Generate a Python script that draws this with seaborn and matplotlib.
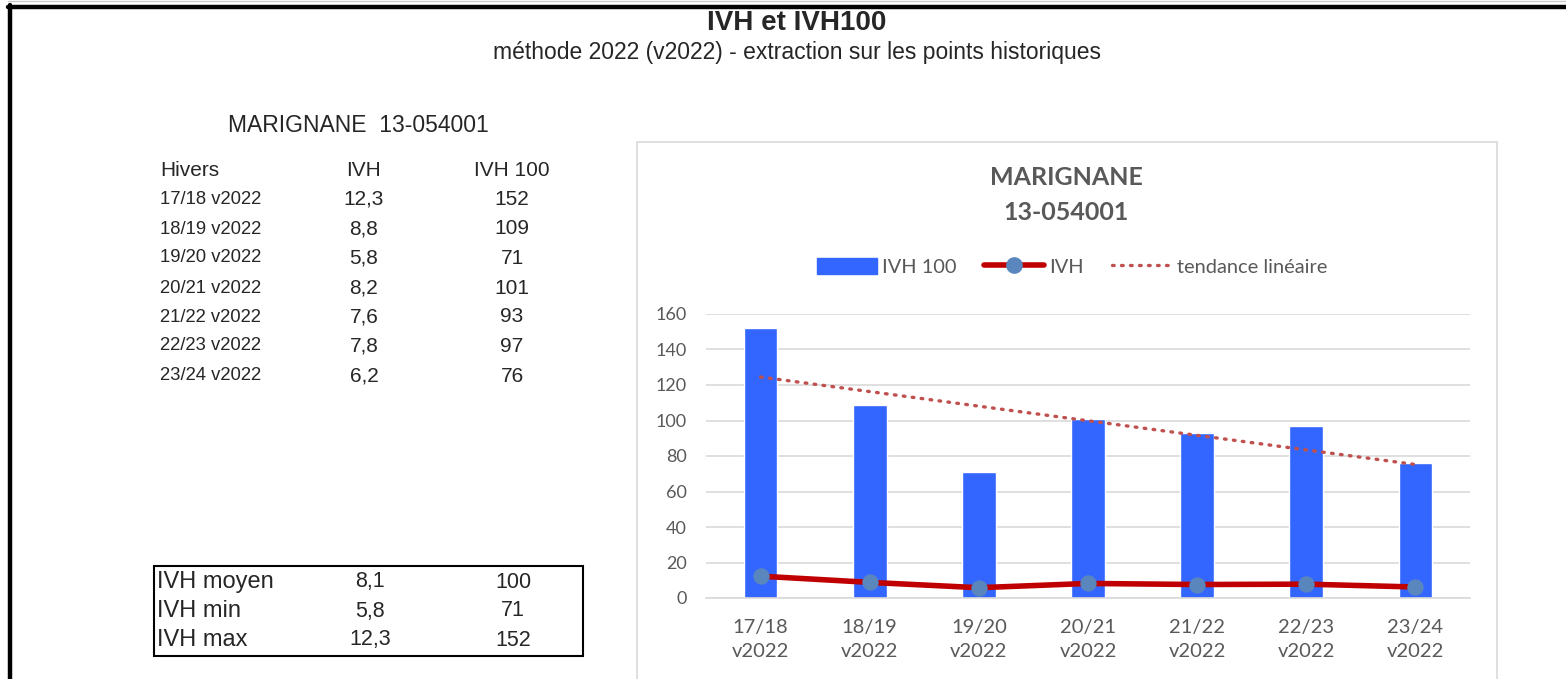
import numpy as np
import seaborn as sns
import matplotlib.pyplot as plt
from matplotlib.patches import Rectangle, Patch
from matplotlib.lines import Line2D

# données
hivers = ["17/18 v2022", "18/19 v2022", "19/20 v2022", "20/21 v2022",
          "21/22 v2022", "22/23 v2022", "23/24 v2022"]
ivh = [12.3, 8.8, 5.8, 8.2, 7.6, 7.8, 6.2]
ivh100 = [152, 109, 71, 101, 93, 97, 76]
stat_noms = ["IVH moyen", "IVH min", "IVH max"]
stat_ivh = [8.1, 5.8, 12.3]
stat_ivh100 = [100, 71, 152]
y_ticks = [0, 20, 40, 60, 80, 100, 120, 140, 160]

W, H = 1566, 679
bleu = "#3366FF"
rouge = "#C00000"
gris = "#595959"


def fx(px):
    return px / W


def fy(py):
    return 1 - py / H


def fr(v):
    return f"{v:.1f}".replace(".", ",")


sns.set_style("white")
plt.rcParams['font.family'] = ['Liberation Sans', 'DejaVu Sans']

fig = plt.figure(figsize=(15.66, 6.79), dpi=100)

# cadre noir
fig.add_artist(Line2D([fx(8), 1], [fy(7), fy(7)], color="black", lw=3.2))
fig.add_artist(Line2D([fx(10), fx(10)], [fy(5), 0], color="black", lw=3.2))
fig.add_artist(Line2D([fx(8), 1], [fy(1), fy(1)], color="#C8C8C8", lw=1))

# titres
fig.text(fx(797), fy(30), "IVH et IVH100", ha="center", va="baseline",
         fontsize=20, fontweight="bold")
fig.text(fx(797), fy(53), "méthode 2022 (v2022) - extraction sur les points historiques",
         ha="center", va="center", fontsize=16.5)
fig.text(fx(228), fy(125), "MARIGNANE  13-054001", ha="left", va="center", fontsize=16.5)

# tableau
rows_y = [199, 229, 258, 288, 317, 346, 376]
fig.text(fx(160), fy(171), "Hivers", ha="left", va="center", fontsize=15)
fig.text(fx(364), fy(171), "IVH", ha="center", va="center", fontsize=15)
fig.text(fx(512), fy(171), "IVH 100", ha="center", va="center", fontsize=15)
for yy, h, a, b in zip(rows_y, hivers, ivh, ivh100):
    fig.text(fx(160), fy(yy), h, ha="left", va="center", fontsize=13.3)
    fig.text(fx(364), fy(yy), fr(a), ha="center", va="center", fontsize=15)
    fig.text(fx(512), fy(yy), str(b), ha="center", va="center", fontsize=15)

# encadré stats
fig.add_artist(Rectangle((fx(154), fy(656)), fx(583 - 154), (656 - 566) / H,
                         fill=False, ec="black", lw=1.5))
for yy, n, a, b in zip([582, 611, 640], stat_noms, stat_ivh, stat_ivh100):
    fig.text(fx(157), fy(yy), n, ha="left", va="center", fontsize=17)
    fig.text(fx(370), fy(yy), fr(a), ha="center", va="center", fontsize=15.5)
    fig.text(fx(513), fy(yy), str(b), ha="center", va="center", fontsize=15.5)

# cadre du graphique
fig.add_artist(Rectangle((fx(637), -0.01), fx(1497 - 637), fy(142) + 0.01,
                         fill=False, ec="#D9D9D9", lw=1.2))

ax = fig.add_axes([fx(706), fy(598), fx(1470 - 706), (598 - 314) / H])
x = np.arange(len(hivers))
labels = [h.replace(" ", "\n") for h in hivers]

sns.barplot(x=x, y=ivh100, color=bleu, saturation=1, width=0.31, ax=ax,
            zorder=2, native_scale=True)
sns.regplot(x=x, y=ivh100, scatter=False, ci=None, ax=ax, truncate=True,
            line_kws=dict(color="#C0504D", lw=2.4, ls=(0, (0.5, 2.2)),
                          dash_capstyle="round", zorder=4))
sns.lineplot(x=x, y=ivh, color=rouge, lw=4, marker="o", markersize=11,
             markerfacecolor="#5A86BE", markeredgecolor="#5A86BE", ax=ax, zorder=5)

ax.set_xlim(-0.5, len(hivers) - 0.5)
ax.set_ylim(0, 160)
ax.set_yticks(y_ticks)
ax.set_xticks(x)
ax.set_xticklabels(labels, fontfamily="Lato", fontsize=14.5, color=gris, linespacing=1.5)
ax.set_xticks(np.arange(-0.5, len(hivers)), minor=True)
ax.tick_params(axis="x", which="major", length=0, pad=15)
ax.tick_params(axis="x", which="minor", length=6, color="#D9D9D9", width=1.2)
ax.tick_params(axis="y", length=0, pad=14)
for t in ax.get_yticklabels():
    t.set_fontfamily("Lato")
    t.set_fontsize(13)
    t.set_color(gris)
ax.grid(axis="y", color="#D9D9D9", lw=1.2, zorder=0)
ax.set_axisbelow(True)
for s in ["top", "right", "left"]:
    ax.spines[s].set_visible(False)
ax.spines["bottom"].set_color("#D9D9D9")
ax.spines["bottom"].set_linewidth(1.2)
ax.set_xlabel("")
ax.set_ylabel("")

# titre du graphique
fig.text(fx(1066), fy(178), "MARIGNANE", ha="center", va="center",
         fontfamily="Lato", fontweight="bold", fontsize=18, color=gris)
fig.text(fx(1066), fy(213), "13-054001", ha="center", va="center",
         fontfamily="Lato", fontweight="bold", fontsize=18, color=gris)

# légende
handles = [
    Patch(facecolor=bleu, edgecolor=bleu),
    Line2D([], [], color=rouge, lw=4, marker="o", markersize=11,
           markerfacecolor="#5A86BE", markeredgecolor="#5A86BE"),
    Line2D([], [], color="#C0504D", lw=2.4, ls=(0, (0.5, 2.2)), dash_capstyle="round"),
]
leg = fig.legend(handles, ["IVH 100", "IVH", "tendance linéaire"], loc="center",
                 bbox_to_anchor=(fx(1072), fy(267)), ncol=3, frameon=False,
                 handlelength=3.0, handleheight=0.85, handletextpad=0.25, columnspacing=1.4,
                 prop={"family": "Lato", "size": 14.4})
for t in leg.get_texts():
    t.set_color(gris)

plt.savefig("out.png", dpi=100)
plt.close()
